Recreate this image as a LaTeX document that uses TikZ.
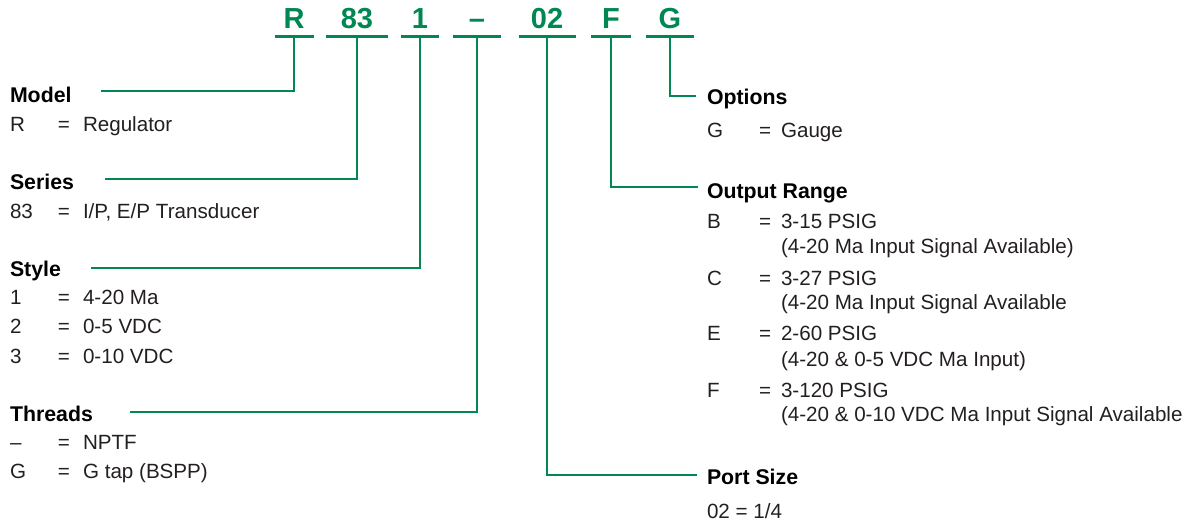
\documentclass[tikz,border=0pt]{standalone}
\usepackage{fontspec}
\setmainfont{Liberation Sans}
\usetikzlibrary{positioning}

\definecolor{codegreen}{RGB}{0,135,82}
\definecolor{inkgray}{RGB}{35,31,32}

\newcommand{\kvleft}[2]{\makebox[48pt][l]{#1}=\hspace{13pt}#2}
\newcommand{\kvright}[2]{\makebox[52pt][l]{#1}=\hspace{10pt}#2}

\begin{document}
\begin{tikzpicture}[
        x=1pt, y=-1pt,
        every node/.style={inner sep=0pt, outer sep=0pt, text=inkgray, font=\fontsize{20.6}{24.5}\selectfont},
        head/.style={font=\fontsize{21.3}{24}\selectfont\bfseries, text=black, anchor=base west},
        item/.style={anchor=base west},
        codebox/.style={font=\fontsize{29}{30}\selectfont\bfseries, text=codegreen, text depth=8pt, minimum width=#1, anchor=base},
        uline/.style={draw=codegreen, line width=3pt},
        link/.style={draw=codegreen, line width=1.4pt}
    ]
    \useasboundingbox (0,0) rectangle (1202,521);

    % Code letters
    \node (cR) [codebox=39pt] at (294,29) {R};
    \node (c83) [codebox=62pt] at (357,29) {83};
    \node (c1) [codebox=38pt] at (420,29) {1};
    \node (cDash) [codebox=48pt] at (477,29) {\textendash};
    \node (c02) [codebox=57pt] at (547,29) {02};
    \node (cF) [codebox=40pt] at (611,29) {F};
    \node (cG) [codebox=48pt] at (670,29) {G};

    % Left column
    \node (hModel) [head] at (10,103) {Model};
    \node (mR) [below=29pt of hModel.base west, item] {\kvleft{R}{Regulator}};
    \node (hSeries) [head] at (10,190) {Series};
    \node (s83) [below=29pt of hSeries.base west, item] {\kvleft{83}{I/P, E/P Transducer}};
    \node (hStyle) [head] at (10,277) {Style};
    \node (st1) [below=28pt of hStyle.base west, item] {\kvleft{1}{4-20 Ma}};
    \node (st2) [below=29pt of st1.base west, item] {\kvleft{2}{0-5 VDC}};
    \node (st3) [below=29pt of st2.base west, item] {\kvleft{3}{0-10 VDC}};
    \node (hThreads) [head] at (10,421) {Threads};
    \node (th1) [below=28pt of hThreads.base west, item] {\kvleft{\textendash}{NPTF}};
    \node (th2) [below=29pt of th1.base west, item] {\kvleft{G}{G tap (BSPP)}};

    % Right column
    \node (hOpt) [head] at (707,105) {Options};
    \node (oG) [below=33pt of hOpt.base west, item] {\kvright{G}{Gauge}};
    \node (hOut) [head] at (707,199) {Output Range};
    \node (oB) [below=30pt of hOut.base west, item] {\kvright{B}{3-15 PSIG}};
    \node (oBsub) [below=25pt of oB.base west, item, xshift=74pt] {(4-20 Ma Input Signal Available)};
    \node (oC) [below=57pt of oB.base west, item] {\kvright{C}{3-27 PSIG}};
    \node (oCsub) [below=24pt of oC.base west, item, xshift=74pt] {(4-20 Ma Input Signal Available};
    \node (oE) [below=55pt of oC.base west, item] {\kvright{E}{2-60 PSIG}};
    \node (oEsub) [below=25pt of oE.base west, item, xshift=74pt] {(4-20 \& 0-5 VDC Ma Input)};
    \node (oF) [below=56pt of oE.base west, item] {\kvright{F}{3-120 PSIG}};
    \node (oFsub) [below=24pt of oF.base west, item, xshift=74pt] {(4-20 \& 0-10 VDC Ma Input Signal Available};
    \node (hPort) [head] at (707,484) {Port Size};
    \node (p02) [below=34pt of hPort.base west, item] {02 = 1/4};

    % Connectors
    \draw[link] (cR.south) |- ([xshift=91pt,yshift=12pt]hModel.base west);
    \draw[link] (c83.south) |- ([xshift=95pt,yshift=11pt]hSeries.base west);
    \draw[link] (c1.south) |- ([xshift=81pt,yshift=9pt]hStyle.base west);
    \draw[link] (cDash.south) |- ([xshift=120pt,yshift=9pt]hThreads.base west);
    \draw[link] (c02.south) |- ([xshift=-10pt,yshift=9pt]hPort.base west);
    \draw[link] (cF.south) |- ([xshift=-9pt,yshift=12pt]hOut.base west);
    \draw[link] (cG.south) |- ([xshift=-11pt,yshift=9pt]hOpt.base west);

    % Underlines
    \foreach \c in {cR,c83,c1,cDash,c02,cF,cG}
        \draw[uline] (\c.south west) -- (\c.south east);

\end{tikzpicture}
\end{document}
